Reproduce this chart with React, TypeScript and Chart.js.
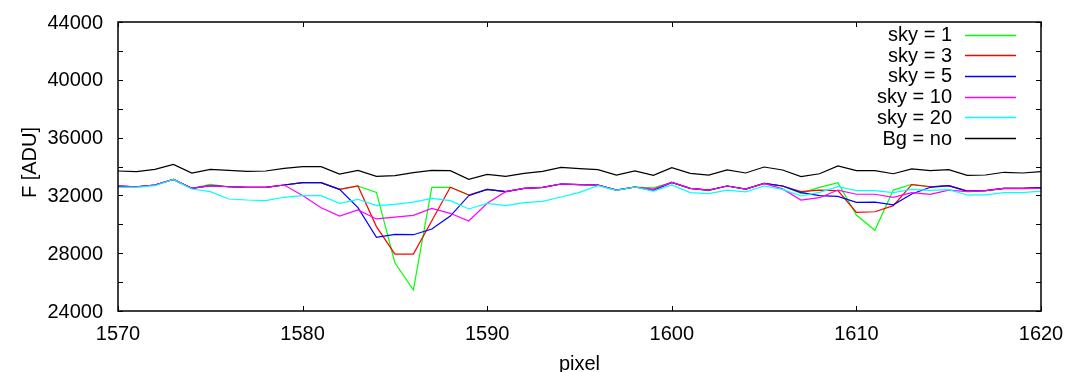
import { useEffect, useRef } from "react";
import { Chart, registerables } from "chart.js";

Chart.register(...registerables);

// Detector column (pixel) positions
const pixels = [
  1570, 1571, 1572, 1573, 1574, 1575, 1576, 1577, 1578, 1579,
  1580, 1581, 1582, 1583, 1584, 1585, 1586, 1587, 1588, 1589,
  1590, 1591, 1592, 1593, 1594, 1595, 1596, 1597, 1598, 1599,
  1600, 1601, 1602, 1603, 1604, 1605, 1606, 1607, 1608, 1609,
  1610, 1611, 1612, 1613, 1614, 1615, 1616, 1617, 1618, 1619,
  1620,
];

// Flux [ADU] for the different sky-window widths
const sky1 = [
  32650, 32600, 32720, 33110, 32490, 32770, 32600, 32560, 32560, 32720,
  32880, 32880, 32420, 32650, 32210, 27340, 25450, 32560, 32560, 32030,
  32420, 32260, 32490, 32540, 32790, 32740, 32720, 32370, 32580, 32530,
  32900, 32490, 32330, 32650, 32440, 32835, 32650, 32140, 32560, 32880,
  30640, 29590, 32370, 32770, 32600, 32670, 32300, 32330, 32490, 32490,
  32540,
];
const sky3 = [
  32650, 32600, 32720, 33110, 32490, 32680, 32600, 32560, 32560, 32720,
  32880, 32880, 32420, 32650, 29840, 27940, 27940, 30250, 32560, 32030,
  32420, 32260, 32490, 32560, 32790, 32740, 32720, 32370, 32580, 32420,
  32900, 32490, 32370, 32650, 32440, 32835, 32650, 32260, 32370, 32330,
  30830, 30870, 31290, 32740, 32600, 32670, 32300, 32330, 32490, 32490,
  32540,
];
const sky5 = [
  32650, 32600, 32720, 33110, 32490, 32680, 32600, 32560, 32560, 32720,
  32880, 32880, 32420, 31150, 29100, 29300, 29280, 29670, 30570, 31980,
  32420, 32260, 32490, 32560, 32790, 32740, 32720, 32370, 32580, 32330,
  32900, 32490, 32370, 32650, 32440, 32835, 32650, 32190, 31980, 31935,
  31520, 31540, 31350, 32100, 32560, 32670, 32300, 32330, 32490, 32490,
  32540,
];
const sky10 = [
  32650, 32600, 32720, 33110, 32490, 32680, 32600, 32560, 32560, 32720,
  32000, 31150, 30570, 30990, 30370, 30500, 30620, 31100, 30760, 30230,
  31450, 32260, 32490, 32560, 32790, 32740, 32720, 32370, 32580, 32420,
  32900, 32490, 32370, 32650, 32440, 32835, 32450, 31680, 31840, 32370,
  32080, 32080, 31870, 32190, 32070, 32370, 32260, 32330, 32490, 32470,
  32490,
];
const sky20 = [
  32560, 32560, 32670, 33110, 32440, 32260, 31750, 31680, 31640, 31870,
  31980, 31980, 31450, 31730, 31290, 31380, 31540, 31800, 31640, 31060,
  31450, 31290, 31500, 31590, 31890, 32210, 32670, 32350, 32580, 32300,
  32720, 32190, 32120, 32370, 32240, 32650, 32420, 31960, 32210, 32600,
  32330, 32330, 32190, 32420, 32350, 32400, 32030, 32030, 32190, 32190,
  32300,
];
const bgNo = [
  33690, 33640, 33800, 34150, 33550, 33800, 33735, 33665, 33690, 33870,
  33990, 33990, 33480, 33735, 33320, 33365, 33570, 33735, 33710, 33110,
  33460, 33320, 33530, 33665, 33940, 33850, 33780, 33410, 33690, 33390,
  33920, 33530, 33410, 33760, 33550, 33965, 33760, 33300, 33500, 34035,
  33710, 33710, 33500, 33830, 33710, 33780, 33390, 33410, 33600, 33550,
  33640,
];

const seriesLabels = ["sky = 1", "sky = 3", "sky = 5", "sky = 10", "sky = 20", "Bg = no"];
const seriesColors = ["#00ff00", "#ff0000", "#0000ff", "#ff00ff", "#00ffff", "#000000"];
const seriesValues = [sky1, sky3, sky5, sky10, sky20, bgNo];

const xTickLabels = [1570, 1580, 1590, 1600, 1610, 1620];
const yTickLabels = [24000, 28000, 32000, 36000, 40000, 44000];
const xTitle = "pixel";
const yTitle = "F [ADU]";

const FONT = "'Liberation Sans', Arial, sans-serif";

// Closed frame, inward tick marks on all four sides, tick labels, axis
// titles and a key with the label to the left of its line sample.
const framePlugin = {
  id: "frameAndKey",
  afterDraw(chart: any) {
    const { ctx, chartArea } = chart;
    const { left, right, top, bottom } = chartArea;
    const xs = chart.scales.x;
    const ys = chart.scales.y;
    ctx.save();
    ctx.strokeStyle = "#000";
    ctx.lineWidth = 1;
    const tl = 5;
    ctx.beginPath();
    ys.ticks.forEach((t: any) => {
      const py = Math.round(ys.getPixelForValue(t.value)) + 0.5;
      ctx.moveTo(left, py);
      ctx.lineTo(left + tl, py);
      ctx.moveTo(right, py);
      ctx.lineTo(right - tl, py);
    });
    xs.ticks.forEach((t: any) => {
      const px = Math.round(xs.getPixelForValue(t.value)) + 0.5;
      ctx.moveTo(px, bottom);
      ctx.lineTo(px, bottom - tl);
      ctx.moveTo(px, top);
      ctx.lineTo(px, top + tl);
    });
    ctx.stroke();
    ctx.lineWidth = 1.5;
    ctx.strokeRect(left, top, right - left, bottom - top);

    ctx.font = `20px ${FONT}`;
    ctx.fillStyle = "#000";

    // tick labels
    ctx.textAlign = "right";
    ctx.textBaseline = "middle";
    yTickLabels.forEach((v) => {
      ctx.fillText(String(v), left - 15, ys.getPixelForValue(v) + 1);
    });
    ctx.textAlign = "center";
    ctx.textBaseline = "alphabetic";
    xTickLabels.forEach((v) => {
      ctx.fillText(String(v), xs.getPixelForValue(v), bottom + 29);
    });

    // axis titles
    ctx.fillText(xTitle, (left + right) / 2, 370);
    ctx.save();
    ctx.translate(36, (top + bottom) / 2 - 4);
    ctx.rotate(-Math.PI / 2);
    ctx.textBaseline = "alphabetic";
    ctx.fillText(yTitle, 0, 0);
    ctx.restore();

    // key
    ctx.textAlign = "right";
    ctx.textBaseline = "middle";
    seriesLabels.forEach((label, i) => {
      const y = 34.5 + i * 20.7;
      ctx.fillStyle = "#000";
      ctx.fillText(label, 952, y + 1);
      ctx.strokeStyle = seriesColors[i];
      ctx.lineWidth = 1.3;
      ctx.beginPath();
      ctx.moveTo(965, Math.round(y) + 0.5);
      ctx.lineTo(1016, Math.round(y) + 0.5);
      ctx.stroke();
    });
    ctx.restore();
  },
};

export default function App() {
  const canvasRef = useRef<HTMLCanvasElement | null>(null);

  useEffect(() => {
    const canvas = canvasRef.current;
    if (!canvas) return;
    const datasets = seriesValues.map((vals, i) => ({
      label: seriesLabels[i],
      data: pixels.map((p, j) => ({ x: p, y: vals[j] })),
      borderColor: seriesColors[i],
      backgroundColor: seriesColors[i],
      borderWidth: 1.2,
      pointRadius: 0,
      tension: 0,
      fill: false,
      order: seriesValues.length - i,
    }));

    const chart = new Chart(canvas, {
      type: "line",
      data: { datasets },
      plugins: [framePlugin],
      options: {
        animation: false,
        responsive: false,
        events: [],
        layout: { padding: { top: 22, right: 26, bottom: 0, left: 0 } },
        plugins: {
          legend: { display: false },
          tooltip: { enabled: false },
        },
        scales: {
          x: {
            type: "linear",
            min: 1570,
            max: 1620,
            afterFit: (scale: any) => {
              scale.height = 61;
            },
            ticks: { stepSize: 10, display: false },
            grid: { display: false, drawTicks: false },
            border: { display: false },
          },
          y: {
            type: "linear",
            min: 24000,
            max: 44000,
            afterFit: (scale: any) => {
              scale.width = 118;
            },
            ticks: { stepSize: 2000, display: false },
            grid: { display: false, drawTicks: false },
            border: { display: false },
          },
        },
      },
    });
    return () => chart.destroy();
  }, []);

  return (
    <div style={{ position: "fixed", left: 0, top: 0, width: 1067, height: 372, background: "#fff" }}>
      <canvas ref={canvasRef} width={1067} height={372} style={{ display: "block" }} />
    </div>
  );
}
